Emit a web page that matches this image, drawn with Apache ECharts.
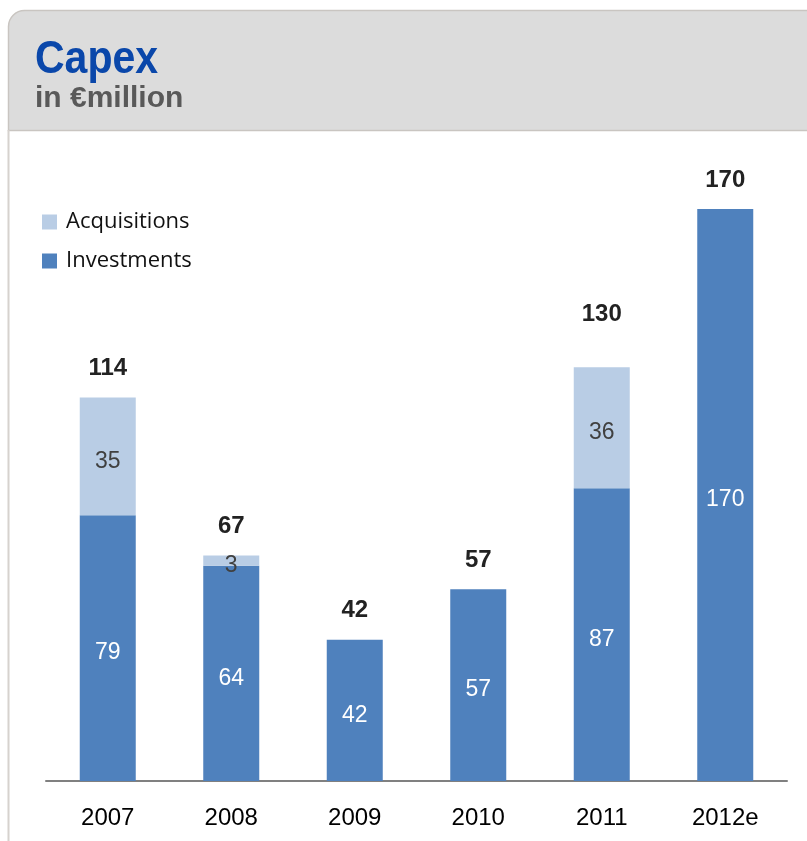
<!DOCTYPE html>
<html><head><meta charset="utf-8">
<script src="https://cdn.jsdelivr.net/npm/echarts@6/dist/echarts.min.js"></script>
<style>html,body{margin:0;padding:0;background:#fff}#c{width:807px;height:841px}</style>
</head><body><div id="c"></div>
<script>
const categories = ['2007','2008','2009','2010','2011','2012e'];
const investments = [79, 64, 42, 57, 87, 170];
const acquisitions = [35, 3, null, null, 36, null];
const totals = [114, 67, 42, 57, 130, 170];
const titleText = 'Capex';
const subtitleText = 'in €million';

const chart = echarts.init(document.getElementById('c'));
chart.setOption({
  backgroundColor: '#ffffff',
  animation: false,
  graphic: [
    { type: 'rect', z: -10, shape: { x: 8.5, y: 10.5, width: 820, height: 120, r: [16, 0, 0, 0] },
      style: { fill: '#dcdcdc', stroke: '#c9c5c1', lineWidth: 1.5 } },
    { type: 'line', z: -10, shape: { x1: 8.5, y1: 130, x2: 8.5, y2: 841 }, style: { stroke: '#d6d2ce', lineWidth: 2 } },
    { type: 'text', x: 35, y: 60, scaleY: 1.12,
      style: { text: titleText, fill: '#0a47aa', font: 'bold 41px "Liberation Sans", Arial', align: 'left', verticalAlign: 'middle' } },
    { type: 'text', x: 35, y: 99, 
      style: { text: subtitleText, fill: '#595959', font: 'bold 30px "Liberation Sans", Arial', align: 'left', verticalAlign: 'middle' } }
  ],
  legend: {
    orient: 'vertical', left: 42, top: 210, padding: 0, itemWidth: 15, itemHeight: 15, itemGap: 15,
    icon: 'rect', data: ['Acquisitions', 'Investments'],
    textStyle: { fontFamily: 'Open Sans, Lato, sans-serif', fontSize: 22, color: '#111', lineHeight: 24, padding: [0,0,0,4] }
  },
  grid: { left: 46, right: 20, top: 209, bottom: 60 },
  xAxis: {
    type: 'category', data: categories,
    axisLine: { lineStyle: { color: '#808080', width: 2 } },
    axisTick: { show: false },
    axisLabel: { fontFamily: 'Liberation Sans, Arial', fontSize: 24, color: '#000', margin: 25 }
  },
  yAxis: { type: 'value', min: 0, max: 170, show: false, splitLine: { show: false } },
  series: [
    { name: 'Investments', type: 'bar', stack: 's', barWidth: 56, data: investments,
      itemStyle: { color: '#4f81bd' },
      label: { show: true, position: 'inside', offset: [0, 5], color: '#ffffff', fontFamily: 'Liberation Sans, Arial', fontSize: 23 } },
    { name: 'Acquisitions', type: 'bar', stack: 's', barWidth: 56, data: acquisitions,
      itemStyle: { color: '#b9cde5' },
      label: { show: true, position: 'inside', offset: [0, 5], color: '#404040', fontFamily: 'Liberation Sans, Arial', fontSize: 23 } },
    { name: 'Total', type: 'bar', barWidth: 56, barGap: '-100%', data: totals, z: -1, silent: true,
      itemStyle: { color: 'rgba(0,0,0,0)' },
      label: { show: true, position: 'top', distance: 17, color: '#222', fontFamily: 'Liberation Sans, Arial', fontSize: 24, fontWeight: 'bold' } }
  ]
});
</script></body></html>
